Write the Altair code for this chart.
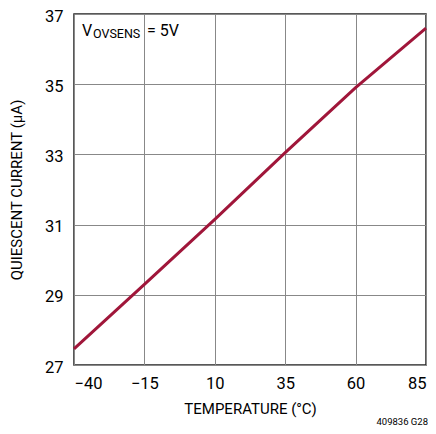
import altair as alt
import pandas as pd

temps = [-40, -15, 10, 35, 60, 85]
current = [27.46, 29.3, 31.15, 33.05, 34.9, 36.6]
x_ticks = [-40, -15, 10, 35, 60, 85]
y_ticks = [27, 29, 31, 33, 35, 37]

df = pd.DataFrame({"t": temps, "i": current})
FONT = "Roboto"

base = alt.Chart(df)
line = base.mark_line(color="#a0163a", strokeWidth=3).encode(
    x=alt.X("t:Q", scale=alt.Scale(domain=[-40, 85], nice=False),
            axis=alt.Axis(values=x_ticks, title="TEMPERATURE (°C)", format="d",
                          labelExpr="replace(datum.label, '-', '\u2013')")),
    y=alt.Y("i:Q", scale=alt.Scale(domain=[27, 37], nice=False),
            axis=alt.Axis(values=y_ticks, title="QUIESCENT CURRENT (µA)")),
)

ann = pd.DataFrame({"k": [0]})
v = alt.Chart(ann).mark_text(text="V", font=FONT, fontSize=16, align="left", baseline="alphabetic", color="black").encode(
    x=alt.value(8), y=alt.value(22))
sub = alt.Chart(ann).mark_text(text="OVSENS", font=FONT, fontSize=12.5, align="left", baseline="alphabetic", color="black").encode(
    x=alt.value(19), y=alt.value(24))
eq = alt.Chart(ann).mark_text(text="= 5V", font=FONT, fontSize=16, align="left", baseline="alphabetic", color="black").encode(
    x=alt.value(73), y=alt.value(22))
foot = alt.Chart(ann).mark_text(text="409836 G28", font=FONT, fontSize=9.5, align="right", baseline="alphabetic", color="black").encode(
    x=alt.value(354), y=alt.value(411))

chart = alt.layer(line, v, sub, eq, foot).properties(
    width=352, height=351,
    autosize=alt.AutoSizeParams(type="none"),
    padding={"left": 66, "top": 6, "right": 2, "bottom": 61}
).configure_view(stroke="#222222", strokeWidth=1.5).configure_axis(
    labelFont=FONT, titleFont=FONT, labelFontSize=16.5, titleFontSize=15,
    labelColor="black", titleColor="black", titleFontWeight="normal",
    gridColor="#888888", gridWidth=1, domain=False, ticks=False,
).configure_axisX(labelPadding=10, titlePadding=10).configure_axisY(labelPadding=11, titlePadding=20, labelOffset=2)

chart.save("out.html", embed_options={"renderer": "svg", "actions": False})
